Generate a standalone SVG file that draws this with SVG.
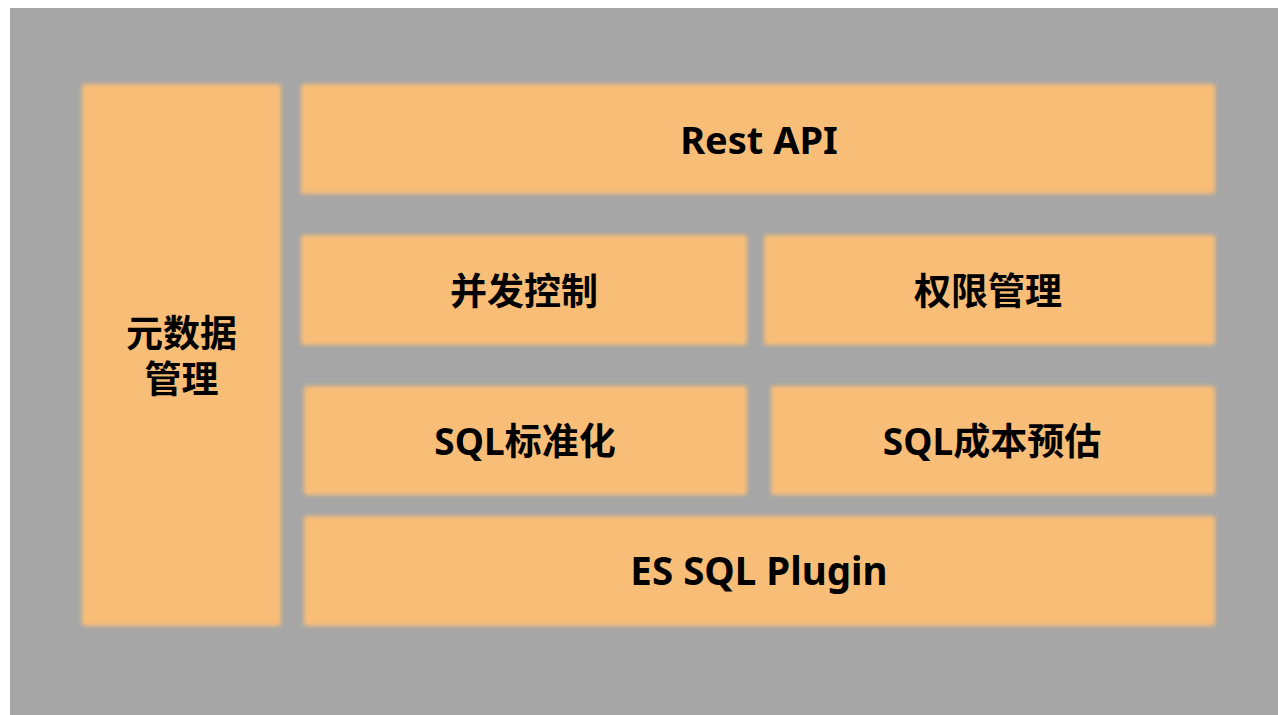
<svg xmlns="http://www.w3.org/2000/svg" width="1278" height="715" viewBox="0 0 1278 715">
  <defs>
    <filter id="soft" x="-5%" y="-5%" width="110%" height="110%">
      <feGaussianBlur stdDeviation="2"/>
    </filter>
    <style>
      .box { fill: #F8BE78; filter: url(#soft); }
      .label { font-family: "Noto Sans", "Noto Sans CJK SC", sans-serif; font-weight: 700; font-size: 37px; fill: #000; text-anchor: middle; dominant-baseline: central; }
    </style>
  </defs>
  <rect x="0" y="0" width="1278" height="715" fill="#FFFFFF"/>
  <rect x="10" y="8" width="1268" height="707" fill="#A6A6A6"/>

  <g id="metadata">
    <rect class="box" x="82" y="84" width="199" height="542" rx="3"/>
    <text class="label" x="181.5" y="332">元数据</text>
    <text class="label" x="181.5" y="378">管理</text>
  </g>
  <g id="rest-api">
    <rect class="box" x="301" y="84" width="914" height="110" rx="3"/>
    <text class="label" x="759" y="139" style="font-size:38px">Rest API</text>
  </g>
  <g id="concurrency">
    <rect class="box" x="301" y="235" width="446" height="110" rx="3"/>
    <text class="label" x="524" y="290">并发控制</text>
  </g>
  <g id="permissions">
    <rect class="box" x="764" y="235" width="451" height="110" rx="3"/>
    <text class="label" x="988" y="290">权限管理</text>
  </g>
  <g id="sql-normalize">
    <rect class="box" x="304" y="386" width="443" height="109" rx="3"/>
    <text class="label" x="525" y="440">SQL标准化</text>
  </g>
  <g id="sql-cost">
    <rect class="box" x="771" y="386" width="444" height="109" rx="3"/>
    <text class="label" x="992" y="440">SQL成本预估</text>
  </g>
  <g id="es-sql-plugin">
    <rect class="box" x="304" y="516" width="911" height="110" rx="3"/>
    <text class="label" x="759" y="570" style="font-size:38.5px">ES SQL Plugin</text>
  </g>
  <g id="connectors"></g>
</svg>
